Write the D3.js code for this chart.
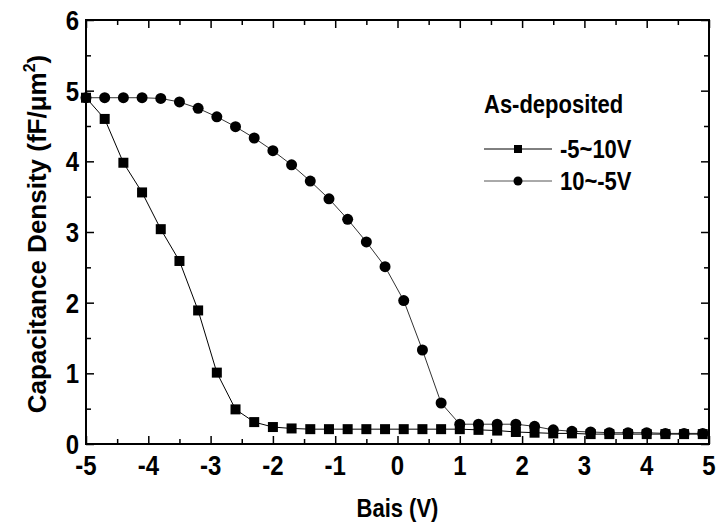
<!DOCTYPE html>
<html>
<head>
<meta charset="utf-8">
<script src="https://cdn.jsdelivr.net/npm/d3@7"></script>
<style>
  body { margin: 0; background: #fff; }
  text { font-family: "Liberation Sans", Arial, sans-serif; font-weight: bold; }
</style>
</head>
<body>
<div id="chart"></div>
<script>
// bias values (V), same for both sweeps
var bias = [-5, -4.7, -4.4, -4.1, -3.8, -3.5, -3.2, -2.9, -2.6, -2.3, -2.0, -1.7, -1.4, -1.1, -0.8, -0.5, -0.2,
  0.1, 0.4, 0.7, 1.0, 1.3, 1.6, 1.9, 2.2, 2.5, 2.8, 3.1, 3.4, 3.7, 4.0, 4.3, 4.6, 4.9];
// -5~10V sweep (squares)
var sweepUp = [4.9, 4.6, 3.98, 3.56, 3.04, 2.59, 1.89, 1.01, 0.49, 0.31, 0.24, 0.22, 0.21, 0.21, 0.21, 0.21, 0.21,
  0.21, 0.21, 0.21, 0.21, 0.2, 0.19, 0.17, 0.16, 0.15, 0.15, 0.14, 0.14, 0.14, 0.14, 0.14, 0.14, 0.14];
// 10~-5V sweep (circles)
var sweepDown = [4.9, 4.9, 4.9, 4.9, 4.89, 4.84, 4.75, 4.63, 4.49, 4.33, 4.15, 3.95, 3.72, 3.47, 3.18, 2.86, 2.51,
  2.03, 1.33, 0.58, 0.28, 0.28, 0.28, 0.28, 0.25, 0.2, 0.18, 0.17, 0.16, 0.16, 0.16, 0.15, 0.15, 0.15];
var xTicks = [-5, -4, -3, -2, -1, 0, 1, 2, 3, 4, 5];
var yTicks = [0, 1, 2, 3, 4, 5, 6];
var legendTitle = "As-deposited";
var seriesNames = ["-5~10V", "10~-5V"];

var margin = {top: 20, right: 12, bottom: 87, left: 86},
  width = 721 - margin.left - margin.right,
  height = 531 - margin.top - margin.bottom;

// the original figure's lettering is a little stretched vertically
var stretch = 1.18;
function place(px, py) { return "translate(" + px + "," + py + ") scale(1," + stretch + ")"; }

var svg = d3.select("#chart")
  .append("svg")
    .attr("width", 721)
    .attr("height", 531)
  .append("g")
    .attr("transform", "translate(" + margin.left + "," + margin.top + ")");

var x = d3.scaleLinear().domain([-5, 5]).range([0, width]);
var y = d3.scaleLinear().domain([0, 6]).range([height, 0]);

var xMinor = d3.range(-4.5, 5, 1);
var yMinor = d3.range(0.5, 6, 1);

function tickAxis(axis, ticks, size) {
  return axis.tickValues(ticks).tickSizeInner(size).tickSizeOuter(0).tickFormat("");
}

// ticks on all four sides, pointing inward
svg.append("g").attr("transform", "translate(0," + height + ")").call(tickAxis(d3.axisTop(x), xTicks, 8));
svg.append("g").attr("transform", "translate(0," + height + ")").call(tickAxis(d3.axisTop(x), xMinor, 5));
svg.append("g").call(tickAxis(d3.axisBottom(x), xTicks, 8));
svg.append("g").call(tickAxis(d3.axisBottom(x), xMinor, 5));
svg.append("g").call(tickAxis(d3.axisRight(y), yTicks, 8));
svg.append("g").call(tickAxis(d3.axisRight(y), yMinor, 5));
svg.append("g").attr("transform", "translate(" + width + ",0)").call(tickAxis(d3.axisLeft(y), yTicks, 8));
svg.append("g").attr("transform", "translate(" + width + ",0)").call(tickAxis(d3.axisLeft(y), yMinor, 5));
svg.selectAll(".tick line").attr("stroke", "#000").attr("stroke-width", 1.5);
svg.selectAll(".domain").remove();

// frame
svg.append("rect")
  .attr("width", width).attr("height", height)
  .attr("fill", "none").attr("stroke", "#000").attr("stroke-width", 2);

// tick labels
svg.selectAll(".xlab").data(xTicks).enter().append("text")
  .attr("transform", function(d) { return place(x(d), height + 31); })
  .attr("text-anchor", "middle")
  .style("font-size", "24px")
  .text(function(d) { return d; });
svg.selectAll(".ylab").data(yTicks).enter().append("text")
  .attr("transform", function(d) { return place(-7, y(d) + 10); })
  .attr("text-anchor", "end")
  .style("font-size", "24px")
  .text(function(d) { return d; });

// axis titles
svg.append("text")
  .attr("transform", place(width / 2, height + 73))
  .attr("text-anchor", "middle")
  .style("font-size", "22px")
  .text("Bais (V)");

var yt = svg.append("text")
  .attr("transform", "translate(-40," + (height / 2 + 2) + ") rotate(-90)")
  .attr("text-anchor", "middle")
  .style("font-size", "26px");
yt.append("tspan").text("Capacitance Density (fF/\u03bcm");
yt.append("tspan").attr("dy", -11).style("font-size", "16px").text("2");
yt.append("tspan").attr("dy", 11).text(")");

var pts1 = bias.map(function(b, i) { return [b, sweepUp[i]]; });
var pts2 = bias.map(function(b, i) { return [b, sweepDown[i]]; });
var line = d3.line().x(function(d) { return x(d[0]); }).y(function(d) { return y(d[1]); });

svg.append("path").datum(pts2)
  .attr("fill", "none").attr("stroke", "#333").attr("stroke-width", 1).attr("d", line);
svg.append("path").datum(pts1)
  .attr("fill", "none").attr("stroke", "#000").attr("stroke-width", 1).attr("d", line);

svg.selectAll(".circ").data(pts2).enter().append("circle")
  .attr("cx", function(d) { return x(d[0]); })
  .attr("cy", function(d) { return y(d[1]); })
  .attr("r", 5.5)
  .attr("fill", "#000");
svg.selectAll(".sq").data(pts1).enter().append("rect")
  .attr("x", function(d) { return x(d[0]) - 5; })
  .attr("y", function(d) { return y(d[1]) - 5; })
  .attr("width", 10).attr("height", 10)
  .attr("fill", "#000");

// legend
var lg = svg.append("g").attr("transform", "translate(398,0)");
lg.append("text").attr("transform", place(0, 93)).style("font-size", "22px").text(legendTitle);
seriesNames.forEach(function(name, i) {
  var ly = 129 + i * 32;
  lg.append("line").attr("x1", 0).attr("x2", 68).attr("y1", ly).attr("y2", ly)
    .attr("stroke", i === 0 ? "#000" : "#555").attr("stroke-width", 1);
  if (i === 0) {
    lg.append("rect").attr("x", 30).attr("y", ly - 4).attr("width", 8).attr("height", 8).attr("fill", "#000");
  } else {
    lg.append("circle").attr("cx", 34).attr("cy", ly).attr("r", 4.5).attr("fill", "#000");
  }
  lg.append("text").attr("transform", place(76, ly + 9)).style("font-size", "22px").text(name);
});
</script>
</body>
</html>
